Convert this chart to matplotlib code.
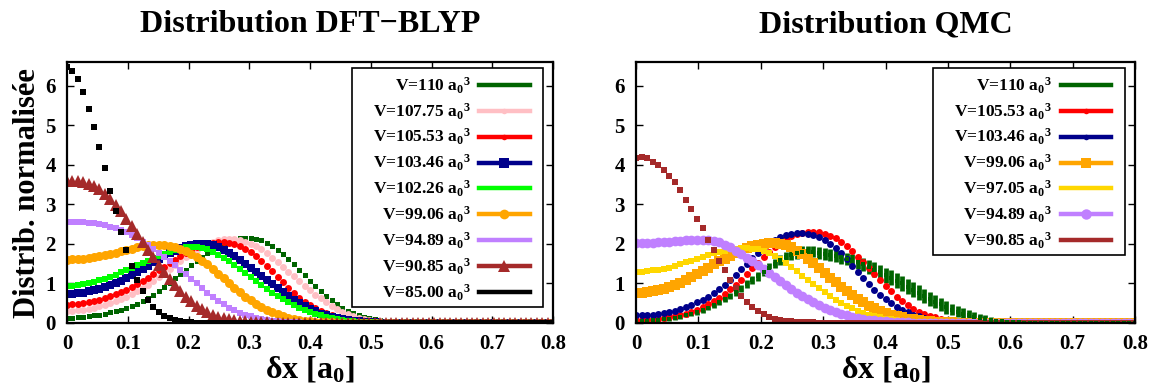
import numpy as np
import matplotlib
matplotlib.use('Agg')
import matplotlib.pyplot as plt
from matplotlib.lines import Line2D
from matplotlib.patches import Rectangle

plt.rcParams['font.family'] = ['Liberation Serif', 'DejaVu Serif']
plt.rcParams['font.weight'] = 'bold'
plt.rcParams['mathtext.fontset'] = 'custom'
plt.rcParams['mathtext.rm'] = 'Liberation Serif:bold'
plt.rcParams['mathtext.it'] = 'Liberation Serif:bold'
plt.rcParams['mathtext.bf'] = 'Liberation Serif:bold'
plt.rcParams['mathtext.default'] = 'rm'

# ---------------- data ----------------
dx = np.linspace(0.0, 0.8, 91)  # delta x grid [a0]

xticks = [0, 0.1, 0.2, 0.3, 0.4, 0.5, 0.6, 0.7, 0.8]
xticklabels = ['0', '0.1', '0.2', '0.3', '0.4', '0.5', '0.6', '0.7', '0.8']
yticks = [0, 1, 2, 3, 4, 5, 6]
yticklabels = ['0', '1', '2', '3', '4', '5', '6']

# DFT-BLYP
dft_110 = [0.12, 0.13, 0.14, 0.15, 0.17, 0.19, 0.21, 0.24, 0.27, 0.30,
           0.34, 0.38, 0.43, 0.49, 0.56, 0.64, 0.72, 0.81, 0.91, 1.02,
           1.13, 1.24, 1.35, 1.46, 1.57, 1.68, 1.78, 1.87, 1.95, 2.02,
           2.07, 2.11, 2.14, 2.15, 2.15, 2.13, 2.09, 2.03, 1.95, 1.85,
           1.74, 1.62, 1.49, 1.35, 1.21, 1.07, 0.94, 0.81, 0.69, 0.58,
           0.48, 0.39, 0.31, 0.25, 0.20, 0.16, 0.12, 0.09, 0.07, 0.05,
           0.04, 0.03, 0.025, 0.02, 0.015, 0.01, 0.008, 0.006, 0.005, 0.004,
           0.003, 0.003, 0.002, 0.002, 0.002, 0.001, 0.001, 0.001, 0.001, 0.0,
           0.0, 0.0, 0.0, 0.0, 0.0, 0.0, 0.0, 0.0, 0.0, 0.0,
           0.0]
dft_10775 = [0.30, 0.31, 0.32, 0.34, 0.36, 0.39, 0.42, 0.46, 0.50, 0.55,
             0.60, 0.66, 0.73, 0.80, 0.88, 0.97, 1.06, 1.16, 1.26, 1.36,
             1.46, 1.56, 1.66, 1.75, 1.84, 1.92, 1.99, 2.05, 2.09, 2.12,
             2.13, 2.12, 2.10, 2.06, 2.01, 1.94, 1.86, 1.76, 1.65, 1.54,
             1.42, 1.30, 1.18, 1.06, 0.94, 0.83, 0.72, 0.62, 0.52, 0.43,
             0.35, 0.28, 0.22, 0.17, 0.13, 0.10, 0.075, 0.055, 0.04, 0.03,
             0.02, 0.015, 0.01, 0.008, 0.006, 0.005, 0.004, 0.003, 0.002, 0.002,
             0.001, 0.001, 0.001, 0.0, 0.0, 0.0, 0.0, 0.0, 0.0, 0.0,
             0.0, 0.0, 0.0, 0.0, 0.0, 0.0, 0.0, 0.0, 0.0, 0.0,
             0.0]
dft_10553 = [0.46, 0.47, 0.48, 0.50, 0.52, 0.55, 0.59, 0.63, 0.68, 0.73,
             0.78, 0.84, 0.91, 0.98, 1.06, 1.15, 1.24, 1.33, 1.42, 1.51,
             1.60, 1.69, 1.77, 1.84, 1.91, 1.96, 2.00, 2.03, 2.04, 2.04,
             2.02, 1.99, 1.94, 1.87, 1.79, 1.69, 1.58, 1.45, 1.31, 1.17,
             1.03, 0.89, 0.76, 0.64, 0.54, 0.45, 0.38, 0.31, 0.25, 0.20,
             0.16, 0.12, 0.09, 0.07, 0.05, 0.04, 0.03, 0.02, 0.015, 0.01,
             0.008, 0.006, 0.005, 0.004, 0.003, 0.002, 0.002, 0.001, 0.001, 0.0,
             0.0, 0.0, 0.0, 0.0, 0.0, 0.0, 0.0, 0.0, 0.0, 0.0,
             0.0, 0.0, 0.0, 0.0, 0.0, 0.0, 0.0, 0.0, 0.0, 0.0,
             0.0]
dft_10346 = [0.73, 0.74, 0.75, 0.77, 0.80, 0.83, 0.87, 0.91, 0.96, 1.01,
             1.07, 1.14, 1.21, 1.29, 1.37, 1.45, 1.53, 1.61, 1.69, 1.76,
             1.83, 1.89, 1.94, 1.97, 1.99, 2.00, 1.99, 1.96, 1.91, 1.85,
             1.77, 1.69, 1.60, 1.50, 1.40, 1.30, 1.19, 1.08, 0.98, 0.88,
             0.78, 0.68, 0.59, 0.51, 0.43, 0.36, 0.30, 0.24, 0.19, 0.15,
             0.12, 0.09, 0.07, 0.05, 0.04, 0.03, 0.02, 0.015, 0.01, 0.008,
             0.006, 0.005, 0.004, 0.003, 0.002, 0.002, 0.001, 0.001, 0.0, 0.0,
             0.0, 0.0, 0.0, 0.0, 0.0, 0.0, 0.0, 0.0, 0.0, 0.0,
             0.0, 0.0, 0.0, 0.0, 0.0, 0.0, 0.0, 0.0, 0.0, 0.0,
             0.0]
dft_10226 = [0.93, 0.94, 0.96, 0.98, 1.01, 1.04, 1.08, 1.12, 1.17, 1.22,
             1.28, 1.34, 1.40, 1.46, 1.52, 1.58, 1.64, 1.70, 1.75, 1.80,
             1.84, 1.88, 1.91, 1.92, 1.92, 1.90, 1.86, 1.80, 1.73, 1.65,
             1.56, 1.47, 1.37, 1.27, 1.17, 1.07, 0.97, 0.87, 0.77, 0.68,
             0.60, 0.52, 0.45, 0.39, 0.33, 0.28, 0.23, 0.19, 0.15, 0.12,
             0.10, 0.08, 0.06, 0.045, 0.035, 0.025, 0.02, 0.015, 0.01, 0.008,
             0.006, 0.005, 0.004, 0.003, 0.002, 0.002, 0.001, 0.001, 0.0, 0.0,
             0.0, 0.0, 0.0, 0.0, 0.0, 0.0, 0.0, 0.0, 0.0, 0.0,
             0.0, 0.0, 0.0, 0.0, 0.0, 0.0, 0.0, 0.0, 0.0, 0.0,
             0.0]
dft_9906 = [1.60, 1.61, 1.62, 1.63, 1.65, 1.67, 1.69, 1.72, 1.75, 1.78,
            1.81, 1.85, 1.88, 1.91, 1.94, 1.96, 1.97, 1.97, 1.96, 1.94,
            1.91, 1.87, 1.82, 1.75, 1.67, 1.58, 1.48, 1.37, 1.25, 1.13,
            1.01, 0.89, 0.78, 0.67, 0.57, 0.48, 0.40, 0.33, 0.27, 0.22,
            0.17, 0.13, 0.10, 0.08, 0.06, 0.045, 0.035, 0.025, 0.02, 0.015,
            0.01, 0.008, 0.006, 0.005, 0.004, 0.003, 0.002, 0.002, 0.001, 0.001,
            0.0, 0.0, 0.0, 0.0, 0.0, 0.0, 0.0, 0.0, 0.0, 0.0,
            0.0, 0.0, 0.0, 0.0, 0.0, 0.0, 0.0, 0.0, 0.0, 0.0,
            0.0, 0.0, 0.0, 0.0, 0.0, 0.0, 0.0, 0.0, 0.0, 0.0,
            0.0]
dft_9489 = [2.56, 2.56, 2.56, 2.55, 2.54, 2.53, 2.51, 2.48, 2.44, 2.40,
            2.35, 2.29, 2.22, 2.14, 2.06, 1.97, 1.88, 1.78, 1.68, 1.57,
            1.46, 1.35, 1.24, 1.12, 1.00, 0.88, 0.77, 0.66, 0.56, 0.47,
            0.39, 0.32, 0.26, 0.21, 0.17, 0.13, 0.10, 0.08, 0.06, 0.045,
            0.035, 0.025, 0.02, 0.015, 0.01, 0.008, 0.006, 0.005, 0.004, 0.003,
            0.002, 0.002, 0.001, 0.001, 0.0, 0.0, 0.0, 0.0, 0.0, 0.0,
            0.0, 0.0, 0.0, 0.0, 0.0, 0.0, 0.0, 0.0, 0.0, 0.0,
            0.0, 0.0, 0.0, 0.0, 0.0, 0.0, 0.0, 0.0, 0.0, 0.0,
            0.0, 0.0, 0.0, 0.0, 0.0, 0.0, 0.0, 0.0, 0.0, 0.0,
            0.0]
dft_9085 = [3.60, 3.60, 3.59, 3.56, 3.52, 3.46, 3.38, 3.27, 3.13, 2.98,
            2.82, 2.64, 2.45, 2.25, 2.05, 1.85, 1.66, 1.47, 1.29, 1.12,
            0.96, 0.81, 0.67, 0.55, 0.44, 0.35, 0.27, 0.21, 0.16, 0.12,
            0.09, 0.07, 0.05, 0.04, 0.03, 0.025, 0.02, 0.015, 0.012, 0.01,
            0.008, 0.007, 0.006, 0.005, 0.004, 0.004, 0.003, 0.003, 0.002, 0.002,
            0.002, 0.002, 0.001, 0.001, 0.001, 0.001, 0.001, 0.001, 0.0, 0.0,
            0.0, 0.0, 0.0, 0.0, 0.0, 0.0, 0.0, 0.0, 0.0, 0.0,
            0.0, 0.0, 0.0, 0.0, 0.0, 0.0, 0.0, 0.0, 0.0, 0.0,
            0.0, 0.0, 0.0, 0.0, 0.0, 0.0, 0.0, 0.0, 0.0, 0.0,
            0.0]
dft_8500 = [6.48, 6.37, 6.17, 5.84, 5.40, 4.96, 4.45, 3.92, 3.34, 2.82,
            2.30, 1.85, 1.43, 1.10, 0.80, 0.58, 0.40, 0.27, 0.18, 0.12,
            0.075, 0.05, 0.03, 0.02, 0.012, 0.008, 0.005, 0.003, 0.002, 0.001,
            0.0, 0.0, 0.0, 0.0, 0.0, 0.0, 0.0, 0.0, 0.0, 0.0,
            0.0, 0.0, 0.0, 0.0, 0.0, 0.0, 0.0, 0.0, 0.0, 0.0,
            0.0, 0.0, 0.0, 0.0, 0.0, 0.0, 0.0, 0.0, 0.0, 0.0,
            0.0, 0.0, 0.0, 0.0, 0.0, 0.0, 0.0, 0.0, 0.0, 0.0,
            0.0, 0.0, 0.0, 0.0, 0.0, 0.0, 0.0, 0.0, 0.0, 0.0,
            0.0, 0.0, 0.0, 0.0, 0.0, 0.0, 0.0, 0.0, 0.0, 0.0,
            0.0]

# QMC
qmc_110 = [0.05, 0.05, 0.06, 0.07, 0.08, 0.09, 0.11, 0.13, 0.16, 0.19,
           0.23, 0.27, 0.32, 0.38, 0.45, 0.52, 0.60, 0.69, 0.78, 0.88,
           0.98, 1.08, 1.18, 1.29, 1.40, 1.50, 1.59, 1.67, 1.73, 1.77,
           1.80, 1.81, 1.80, 1.78, 1.75, 1.72, 1.69, 1.66, 1.62, 1.58,
           1.53, 1.48, 1.42, 1.35, 1.28, 1.21, 1.14, 1.07, 1.00, 0.92,
           0.84, 0.76, 0.68, 0.61, 0.54, 0.47, 0.40, 0.34, 0.29, 0.24,
           0.20, 0.16, 0.13, 0.10, 0.08, 0.06, 0.045, 0.03, 0.02, 0.015,
           0.01, 0.008, 0.006, 0.005, 0.004, 0.003, 0.002, 0.001, 0.0, 0.0,
           0.0, 0.0, 0.0, 0.0, 0.0, 0.0, 0.0, 0.0, 0.0, 0.0,
           0.0]
qmc_110_err = [0.04, 0.04, 0.04, 0.04, 0.04, 0.04, 0.05, 0.05, 0.05, 0.05,
               0.05, 0.06, 0.06, 0.06, 0.07, 0.07, 0.08, 0.08, 0.09, 0.09,
               0.10, 0.10, 0.11, 0.11, 0.12, 0.12, 0.13, 0.13, 0.13, 0.14,
               0.14, 0.14, 0.14, 0.15, 0.15, 0.15, 0.16, 0.16, 0.16, 0.17,
               0.17, 0.17, 0.18, 0.18, 0.18, 0.19, 0.19, 0.19, 0.19, 0.19,
               0.19, 0.19, 0.18, 0.18, 0.17, 0.17, 0.16, 0.15, 0.14, 0.13,
               0.12, 0.11, 0.10, 0.09, 0.08, 0.07, 0.06, 0.05, 0.04, 0.03,
               0.03, 0.02, 0.02, 0.02, 0.02, 0.02, 0.02, 0.02, 0.02, 0.02,
               0.02, 0.02, 0.02, 0.02, 0.02, 0.02, 0.02, 0.02, 0.02, 0.02,
               0.02]
qmc_10553 = [0.07, 0.07, 0.08, 0.09, 0.10, 0.12, 0.14, 0.17, 0.20, 0.24,
             0.29, 0.34, 0.40, 0.47, 0.55, 0.64, 0.74, 0.85, 0.97, 1.10,
             1.24, 1.38, 1.52, 1.66, 1.80, 1.93, 2.04, 2.13, 2.20, 2.25,
             2.28, 2.30, 2.30, 2.29, 2.26, 2.21, 2.14, 2.05, 1.94, 1.82,
             1.68, 1.53, 1.38, 1.23, 1.08, 0.94, 0.80, 0.67, 0.55, 0.45,
             0.36, 0.29, 0.23, 0.18, 0.14, 0.11, 0.08, 0.06, 0.045, 0.035,
             0.025, 0.02, 0.015, 0.01, 0.008, 0.006, 0.004, 0.003, 0.002, 0.001,
             0.0, 0.0, 0.0, 0.0, 0.0, 0.0, 0.0, 0.0, 0.0, 0.0,
             0.0, 0.0, 0.0, 0.0, 0.0, 0.0, 0.0, 0.0, 0.0, 0.0,
             0.0]
qmc_10346 = [0.19, 0.19, 0.20, 0.21, 0.23, 0.25, 0.28, 0.31, 0.35, 0.40,
             0.46, 0.52, 0.59, 0.67, 0.76, 0.86, 0.97, 1.09, 1.22, 1.36,
             1.50, 1.64, 1.78, 1.91, 2.02, 2.11, 2.18, 2.23, 2.26, 2.27,
             2.27, 2.25, 2.22, 2.17, 2.10, 2.00, 1.89, 1.76, 1.61, 1.45,
             1.29, 1.13, 0.98, 0.84, 0.71, 0.60, 0.50, 0.41, 0.33, 0.27,
             0.21, 0.17, 0.13, 0.10, 0.08, 0.06, 0.045, 0.035, 0.025, 0.02,
             0.015, 0.01, 0.008, 0.006, 0.004, 0.003, 0.002, 0.001, 0.0, 0.0,
             0.0, 0.0, 0.0, 0.0, 0.0, 0.0, 0.0, 0.0, 0.0, 0.0,
             0.0, 0.0, 0.0, 0.0, 0.0, 0.0, 0.0, 0.0, 0.0, 0.0,
             0.0]
qmc_9906 = [0.76, 0.77, 0.79, 0.81, 0.84, 0.87, 0.91, 0.96, 1.02, 1.09,
            1.16, 1.24, 1.32, 1.40, 1.48, 1.56, 1.63, 1.70, 1.77, 1.83,
            1.89, 1.94, 1.98, 2.01, 2.03, 2.03, 2.01, 1.97, 1.91, 1.83,
            1.74, 1.63, 1.51, 1.39, 1.27, 1.15, 1.03, 0.92, 0.81, 0.71,
            0.61, 0.52, 0.44, 0.37, 0.31, 0.26, 0.21, 0.17, 0.14, 0.11,
            0.09, 0.07, 0.055, 0.04, 0.03, 0.025, 0.02, 0.015, 0.01, 0.008,
            0.006, 0.004, 0.003, 0.002, 0.001, 0.0, 0.0, 0.0, 0.0, 0.0,
            0.0, 0.0, 0.0, 0.0, 0.0, 0.0, 0.0, 0.0, 0.0, 0.0,
            0.0, 0.0, 0.0, 0.0, 0.0, 0.0, 0.0, 0.0, 0.0, 0.0,
            0.0]
qmc_9705 = [1.29, 1.30, 1.31, 1.33, 1.35, 1.37, 1.40, 1.44, 1.48, 1.53,
            1.58, 1.63, 1.68, 1.72, 1.76, 1.80, 1.83, 1.86, 1.88, 1.89,
            1.89, 1.88, 1.86, 1.82, 1.76, 1.69, 1.61, 1.52, 1.42, 1.31,
            1.20, 1.09, 0.98, 0.88, 0.78, 0.68, 0.59, 0.51, 0.43, 0.37,
            0.31, 0.26, 0.21, 0.17, 0.14, 0.11, 0.09, 0.07, 0.055, 0.045,
            0.035, 0.025, 0.02, 0.015, 0.01, 0.008, 0.006, 0.004, 0.003, 0.002,
            0.001, 0.0, 0.0, 0.0, 0.0, 0.0, 0.0, 0.0, 0.0, 0.0,
            0.0, 0.0, 0.0, 0.0, 0.0, 0.0, 0.0, 0.0, 0.0, 0.0,
            0.0, 0.0, 0.0, 0.0, 0.0, 0.0, 0.0, 0.0, 0.0, 0.0,
            0.0]
qmc_9489 = [2.02, 2.02, 2.03, 2.03, 2.04, 2.05, 2.06, 2.07, 2.08, 2.09,
            2.10, 2.11, 2.11, 2.10, 2.08, 2.04, 1.98, 1.91, 1.83, 1.74,
            1.65, 1.56, 1.46, 1.36, 1.26, 1.16, 1.06, 0.96, 0.86, 0.77,
            0.68, 0.60, 0.52, 0.45, 0.39, 0.33, 0.28, 0.23, 0.19, 0.16,
            0.13, 0.10, 0.08, 0.065, 0.05, 0.04, 0.03, 0.025, 0.02, 0.015,
            0.01, 0.008, 0.006, 0.004, 0.003, 0.002, 0.001, 0.0, 0.0, 0.0,
            0.0, 0.0, 0.0, 0.0, 0.0, 0.0, 0.0, 0.0, 0.0, 0.0,
            0.0, 0.0, 0.0, 0.0, 0.0, 0.0, 0.0, 0.0, 0.0, 0.0,
            0.0, 0.0, 0.0, 0.0, 0.0, 0.0, 0.0, 0.0, 0.0, 0.0,
            0.0]
qmc_9085 = [4.17, 4.21, 4.17, 4.08, 4.00, 3.87, 3.72, 3.57, 3.36, 3.11,
            2.88, 2.64, 2.40, 2.11, 1.85, 1.58, 1.33, 1.10, 0.89, 0.69,
            0.53, 0.41, 0.30, 0.22, 0.16, 0.11, 0.08, 0.06, 0.04, 0.03,
            0.025, 0.02, 0.015, 0.01, 0.01, 0.008, 0.006, 0.005, 0.004, 0.003,
            0.002, 0.002, 0.001, 0.001, 0.0, 0.0, 0.0, 0.0, 0.0, 0.0,
            0.0, 0.0, 0.0, 0.0, 0.0, 0.0, 0.0, 0.0, 0.0, 0.0,
            0.0, 0.0, 0.0, 0.0, 0.0, 0.0, 0.0, 0.0, 0.0, 0.0,
            0.0, 0.0, 0.0, 0.0, 0.0, 0.0, 0.0, 0.0, 0.0, 0.0,
            0.0, 0.0, 0.0, 0.0, 0.0, 0.0, 0.0, 0.0, 0.0, 0.0,
            0.0]

dft_labels = ['110', '107.75', '105.53', '103.46', '102.26', '99.06', '94.89', '90.85', '85.00']
qmc_labels = ['110', '105.53', '103.46', '99.06', '97.05', '94.89', '90.85']

# ---------------- styles ----------------
C_DGREEN = '#006400'
C_PINK = '#ffbfc4'
C_RED = '#ff0000'
C_NAVY = '#00008b'
C_LIME = '#00ff00'
C_ORANGE = '#ffa500'
C_LAV = '#c080ff'
C_BROWN = '#a52a2a'
C_BLACK = '#000000'
C_GOLD = '#ffd700'

# (values, color, marker, markersize, legend marker, legend markersize)
dft_series = [
    (dft_110, C_DGREEN, 's', 3.6, 's', 2.5),
    (dft_10775, C_PINK, 'o', 5.0, 'o', 4.0),
    (dft_10553, C_RED, 'o', 5.0, 'o', 4.0),
    (dft_10346, C_NAVY, 's', 6.0, 's', 7.5),
    (dft_10226, C_LIME, 's', 4.5, 's', 3.0),
    (dft_9906, C_ORANGE, 'o', 6.5, 'o', 7.0),
    (dft_9489, C_LAV, 's', 3.8, 's', 2.5),
    (dft_9085, C_BROWN, '^', 8.5, '^', 9.0),
    (dft_8500, C_BLACK, 's', 3.8, 's', 2.5),
]
qmc_series = [
    (qmc_110, C_DGREEN, 's', 3.5, 's', 2.5),
    (qmc_10553, C_RED, 'o', 5.0, 'o', 4.0),
    (qmc_10346, C_NAVY, 'o', 5.0, 'o', 4.0),
    (qmc_9906, C_ORANGE, 's', 7.0, 's', 7.5),
    (qmc_9705, C_GOLD, 's', 5.0, 's', 3.5),
    (qmc_9489, C_LAV, 'o', 7.0, 'o', 7.5),
    (qmc_9085, C_BROWN, 's', 3.8, 's', 2.5),
]

W, H = 1158, 389
fig = plt.figure(figsize=(W / 100, H / 100), dpi=100)
axL = fig.add_axes([67 / W, 66 / H, 486 / W, 261 / H])
axR = fig.add_axes([636 / W, 66 / H, 499 / W, 261 / H])


def style_axes(ax):
    ax.set_xlim(0, 0.8)
    ax.set_ylim(0, 6.6)
    ax.set_xticks(xticks)
    ax.set_xticklabels(xticklabels)
    ax.set_yticks(yticks)
    ax.set_yticklabels(yticklabels)
    ax.tick_params(direction='in', top=True, right=True, length=5, width=1,
                   labelsize=15, pad=8)
    for lab in ax.get_xticklabels() + ax.get_yticklabels():
        lab.set_fontweight('bold')
    for sp in ax.spines.values():
        sp.set_linewidth(1.6)


def make_legend(ax, handles, labels):
    leg = ax.legend(handles, labels, loc='upper right',
                    bbox_to_anchor=(0.966, 0.975), borderaxespad=0,
                    frameon=False, markerfirst=False, numpoints=1,
                    handlelength=2.9, handletextpad=0.5, labelspacing=0.32,
                    prop={'family': 'Liberation Serif', 'weight': 'bold', 'size': 12.5})
    leg.set_zorder(6)
    return leg


for vals, col, mk, ms, lmk, lms in dft_series:
    axL.plot(dx, vals, linestyle='none', marker=mk, ms=ms, color=col,
             markeredgewidth=0, clip_on=True)

for i, (vals, col, mk, ms, lmk, lms) in enumerate(qmc_series):
    if i == 0:
        axR.errorbar(dx, vals, yerr=qmc_110_err, fmt=mk, ms=ms, color=col,
                     ecolor=col, elinewidth=3.4, capsize=0, markeredgewidth=0)
    else:
        axR.plot(dx, vals, linestyle='none', marker=mk, ms=ms, color=col,
                 markeredgewidth=0)

style_axes(axL)
style_axes(axR)

dft_handles = [Line2D([], [], color=c, lw=3.2, marker=lm, ms=lms, markeredgewidth=0)
               for (_, c, _, _, lm, lms) in dft_series]
qmc_handles = [Line2D([], [], color=c, lw=3.2, marker=lm, ms=lms, markeredgewidth=0)
               for (_, c, _, _, lm, lms) in qmc_series]
dft_leg_labels = ['V=' + v + r' a$_0$$^3$' for v in dft_labels]
qmc_leg_labels = ['V=' + v + r' a$_0$$^3$' for v in qmc_labels]

legL = make_legend(axL, dft_handles, dft_leg_labels)
legR = make_legend(axR, qmc_handles, qmc_leg_labels)

# legend boxes drawn around the legend contents (gnuplot-like asymmetric padding)
fig.canvas.draw()
inv = fig.transFigure.inverted()
for ax, leg in [(axL, legL), (axR, legR)]:
    bb = leg.get_window_extent()
    x0 = bb.x0 - 14
    x1 = bb.x1 + 7
    y0 = bb.y0 + 3
    y1 = bb.y1 + 1
    (fx0, fy0) = inv.transform((x0, y0))
    (fx1, fy1) = inv.transform((x1, y1))
    rect = Rectangle((fx0, fy0), fx1 - fx0, fy1 - fy0, transform=fig.transFigure,
                     facecolor='white', edgecolor='black', lw=1.2, zorder=5,
                     clip_on=False)
    ax.add_artist(rect)

# titles and axis labels
fig.text((67 + 553) / 2 / W, 1 - 25 / H, 'Distribution DFT\u2212BLYP', ha='center', va='center',
         fontsize=23, fontweight='bold')
fig.text((636 + 1135) / 2 / W, 1 - 25 / H, 'Distribution QMC', ha='center', va='center',
         fontsize=23, fontweight='bold')
fig.text((67 + 553) / 2 / W, 1 - 370 / H, '\u03b4x [a$_0$]', ha='center', va='center',
         fontsize=23, fontweight='bold')
fig.text((636 + 1135) / 2 / W, 1 - 370 / H, '\u03b4x [a$_0$]', ha='center', va='center',
         fontsize=23, fontweight='bold')
fig.text(28 / W, 1 - 193 / H, 'Distrib. normalisée', ha='center', va='center',
         rotation=90, fontsize=22, fontweight='bold')

fig.savefig('out.png', dpi=100)
